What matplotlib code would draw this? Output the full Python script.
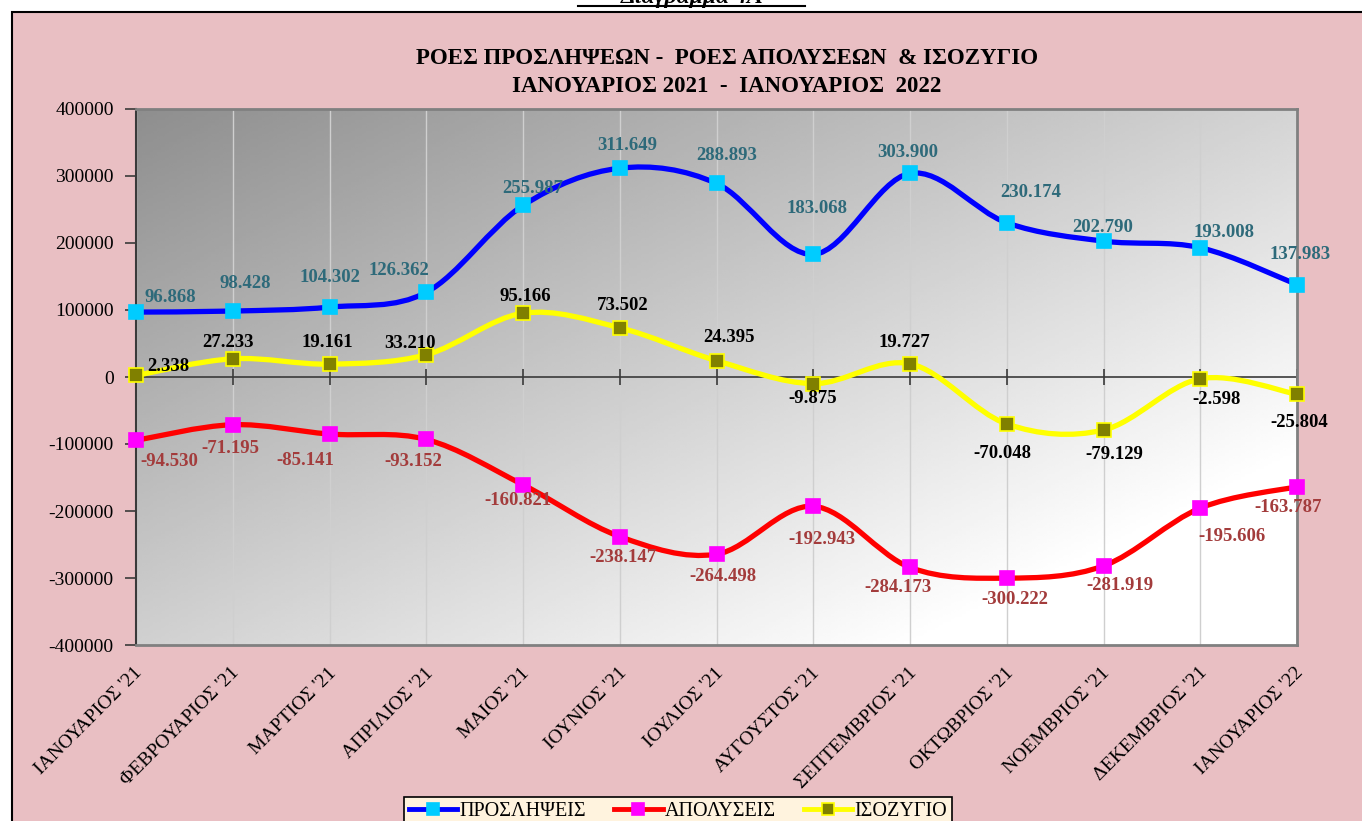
import matplotlib

matplotlib.use("Agg")
import matplotlib.pyplot as plt
import numpy as np
from matplotlib.lines import Line2D
from matplotlib.patches import PathPatch, Rectangle
from matplotlib.path import Path
from matplotlib.transforms import ScaledTranslation

months = ["ΙΑΝΟΥΑΡΙΟΣ '21", "ΦΕΒΡΟΥΑΡΙΟΣ '21", "ΜΑΡΤΙΟΣ '21", "ΑΠΡΙΛΙΟΣ '21",
          "ΜΑΙΟΣ '21", "ΙΟΥΝΙΟΣ '21", "ΙΟΥΛΙΟΣ '21", "ΑΥΓΟΥΣΤΟΣ '21",
          "ΣΕΠΤΕΜΒΡΙΟΣ '21", "ΟΚΤΩΒΡΙΟΣ '21", "ΝΟΕΜΒΡΙΟΣ '21", "ΔΕΚΕΜΒΡΙΟΣ '21",
          "ΙΑΝΟΥΑΡΙΟΣ '22"]
hires = [96868, 98428, 104302, 126362, 255987, 311649, 288893,
         183068, 303900, 230174, 202790, 193008, 137983]
layoffs = [-94530, -71195, -85141, -93152, -160821, -238147, -264498,
           -192943, -284173, -300222, -281919, -195606, -163787]
balance = [2338, 27233, 19161, 33210, 95166, 73502, 24395,
           -9875, 19727, -70048, -79129, -2598, -25804]

# label offsets in pixels (dx, dy) - placed by hand in the original
hires_off = [(34, 15), (13, 28), (0, 30), (-27, 22), (10, 17), (7, 23), (10, 28),
             (4, 46), (-2, 21), (24, 30), (-1, 14), (24, 15), (3, 30)]
layoffs_off = [(33, -21), (-2, -24), (-24, -26), (-13, -22), (-5, -16), (3, -21),
               (6, -22), (9, -33), (-12, -20), (8, -21), (16, -20), (32, -28), (-9, -21)]
balance_off = [(32, 9), (-5, 16), (-2, 22), (-16, 11), (2, 17), (3, 22), (12, 23),
               (-1, -15), (-6, 21), (-4, -30), (11, -24), (16, -21), (2, -28)]

plt.rcParams["font.family"] = ["Liberation Serif", "DejaVu Serif"]


def fmt(v):
    return f"{v:,}".replace(",", ".")


def smooth_path(xs, ys):
    """Catmull-Rom style bezier, like a spreadsheet 'smoothed line'."""
    pts = np.column_stack([xs, ys]).astype(float)
    n = len(pts)
    verts = [pts[0]]
    codes = [Path.MOVETO]
    for i in range(n - 1):
        p0 = pts[i - 1] if i > 0 else pts[i]
        p1, p2 = pts[i], pts[i + 1]
        p3 = pts[i + 2] if i + 2 < n else p2
        verts += [p1 + (p2 - p0) / 6, p2 - (p3 - p1) / 6, p2]
        codes += [Path.CURVE4] * 3
    return Path(verts, codes)


fig = plt.figure(figsize=(13.62, 8.21), dpi=100, facecolor="white")
W, H = 1362, 821

# pink outer panel
fig.add_artist(Rectangle((12 / W, -0.05), 1.2, 1 - 12 / H + 0.05, transform=fig.transFigure,
                         facecolor="#E9BFC3", edgecolor="black", linewidth=1.5, zorder=0))

# heading above the chart (cut off at the top in the original)
fig.text(692 / W, 1 - 3 / H, "Διάγραμμα 4Α", ha="center", va="baseline", fontsize=17,
         fontweight="bold", fontstyle="italic")
fig.add_artist(Line2D([578 / W, 805 / W], [1 - 6 / H, 1 - 6 / H], transform=fig.transFigure,
                      color="black", linewidth=1.5))

ax = fig.add_axes([136 / W, 1 - 645 / H, (1297 - 136) / W, (645 - 109) / H])
x = np.arange(len(months))
ax.set_xlim(0, len(months) - 1)
ax.set_ylim(-400000, 400000)

# diagonal grey gradient for the plot area
u = np.linspace(0, 1, 300)[None, :]
v = np.linspace(0, 1, 200)[:, None]
grad = np.clip(142 + 70 * u + 66 * v, 0, 255)
ax.imshow(grad, cmap="gray", vmin=0, vmax=255, extent=(0, len(months) - 1, -400000, 400000),
          aspect="auto", origin="upper", zorder=0)

for xi in x:
    ax.axvline(xi, color="#CFCFCF", linewidth=1, zorder=1)
ax.axhline(0, color="#3A3A3A", linewidth=1.2, zorder=2)
ax.plot(x, np.zeros(len(x)), ls="", marker="|", ms=11, mew=1.2, color="#3A3A3A", zorder=2)

series = [
    (hires, "#0000FF", "#00CCFF", "#00CCFF", "#2E6A7A", hires_off, "ΠΡΟΣΛΗΨΕΙΣ"),
    (layoffs, "#FF0000", "#FF00FF", "#FF00FF", "#A33C3C", layoffs_off, "ΑΠΟΛΥΣΕΙΣ"),
    (balance, "#FFFF00", "#808000", "#FFFF00", "black", balance_off, "ΙΣΟΖΥΓΙΟ"),
]
handles = []
for vals, lc, mfc, mec, tc, offs, name in series:
    ax.add_patch(PathPatch(smooth_path(x, vals), fill=False, edgecolor=lc, linewidth=3.8,
                           capstyle="round", zorder=3))
    ax.plot(x, vals, ls="", marker="s", ms=9.5, mfc=mfc, mec=mec, mew=1.2, zorder=4,
            clip_on=False)
    for xi, val, (dx, dy) in zip(x, vals, offs):
        ax.annotate(fmt(val), (xi, val), xytext=(dx, dy), textcoords="offset pixels",
                    ha="center", va="center", fontsize=13.5, fontweight="bold", color=tc,
                    zorder=5, annotation_clip=False)
    handles.append(Line2D([], [], color=lc, linewidth=3.5, marker="s", ms=8, mfc=mfc,
                          mec=mec, mew=1.2, label=name))

ax.set_yticks(np.arange(-400000, 400001, 100000))
ax.set_yticklabels([str(t) for t in range(-400000, 400001, 100000)], fontsize=14)
ax.tick_params(axis="y", direction="out", length=8, width=1.2, color="#3A3A3A", pad=8)
ax.set_xticks(x)
ax.set_xticklabels(months, rotation=45, ha="right", rotation_mode="anchor", fontsize=14)
ax.tick_params(axis="x", length=0, pad=14)
for lbl in ax.get_xticklabels():
    lbl.set_transform(lbl.get_transform() + ScaledTranslation(-2 / 100, 0, fig.dpi_scale_trans))

for side in ["top", "right", "bottom"]:
    ax.spines[side].set_color("#808080")
    ax.spines[side].set_linewidth(2)
ax.spines["left"].set_color("#3A3A3A")
ax.spines["left"].set_linewidth(1.5)

fig.text(727 / W, 1 - 58 / H, "ΡΟΕΣ ΠΡΟΣΛΗΨΕΩΝ -  ΡΟΕΣ ΑΠΟΛΥΣΕΩΝ  & ΙΣΟΖΥΓΙΟ",
         ha="center", va="center", fontsize=16.5, fontweight="bold")
fig.text(727 / W, 1 - 87 / H, "ΙΑΝΟΥΑΡΙΟΣ 2021  -  ΙΑΝΟΥΑΡΙΟΣ  2022",
         ha="center", va="center", fontsize=16.5, fontweight="bold")

leg = fig.legend(handles=handles, loc="upper left", bbox_to_anchor=(404 / W, 1 - 797 / H),
                 ncol=3, fontsize=14.5, frameon=True, fancybox=False, handlelength=2.4,
                 handletextpad=0.1, columnspacing=1.4, borderpad=0.25, borderaxespad=0)
leg.get_frame().set_facecolor("#FFF3DE")
leg.get_frame().set_edgecolor("black")
leg.get_frame().set_linewidth(1.2)
leg.get_frame().set_alpha(1)

fig.savefig("out.png", dpi=100)
plt.close(fig)
